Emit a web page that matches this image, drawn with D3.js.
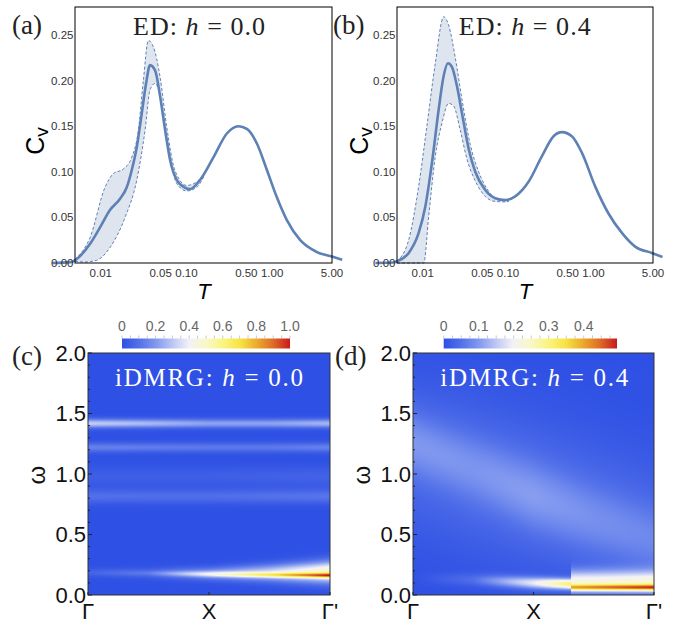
<!DOCTYPE html>
<html><head><meta charset="utf-8">
<script src="https://cdn.jsdelivr.net/npm/d3@7"></script>
<style>body{margin:0;background:#fff} svg{display:block}</style>
</head><body>
<svg id="fig" width="684" height="623"></svg>
<script>
// ================= DATA =================
const tTickValues = [0.01, 0.05, 0.1, 0.5, 1, 5];
const tTickLabels = ["0.01", "0.05", "0.10", "0.50", "1.00", "5.00"];
const cvTickValues = [0, 0.05, 0.10, 0.15, 0.20, 0.25];
const cvTickLabels = ["0.00", "0.05", "0.10", "0.15", "0.20", "0.25"];

// (a) ED, h = 0.0 : mean C_v and its upper / lower bounds
const aT  = [0.0027,0.0045,0.005,0.0075,0.0098,0.0128,0.0168,0.0201,0.023,0.0263,0.0301,0.0338,0.0376,0.0431,0.0492,0.0563,0.0644,0.0771,0.0964,0.11,0.144,0.207,0.296,0.405,0.507,0.664,0.869,1.136,1.486,2.13,3.33,4.99,6.58];
const aCv = [0,0.001,0.003,0.021,0.039,0.058,0.0705,0.083,0.102,0.127,0.164,0.197,0.217,0.211,0.183,0.146,0.113,0.091,0.0825,0.081,0.091,0.116,0.142,0.150,0.147,0.131,0.102,0.072,0.047,0.025,0.012,0.007,0.0035];
const aUpT  = [0.005,0.0075,0.0112,0.014,0.0183,0.023,0.0274,0.0314,0.0359,0.0411,0.0492,0.0589,0.0737,0.101,0.132,0.16];
const aUpCv = [0.004,0.028,0.083,0.098,0.103,0.116,0.145,0.200,0.244,0.237,0.204,0.149,0.101,0.085,0.089,0.098];
const aLoT  = [0.005,0.0065,0.00897,0.0128,0.0192,0.0263,0.0329,0.0376,0.0431,0.0492,0.0589,0.0771,0.101,0.132,0.16];
const aLoCv = [0.002,0.001,0.003,0.017,0.05,0.091,0.146,0.19,0.197,0.183,0.138,0.087,0.079,0.083,0.095];

// (b) ED, h = 0.4
const bT  = [0.00279,0.0045,0.005,0.00686,0.00897,0.01074,0.01285,0.01538,0.0176,0.01977,0.022,0.0252,0.0289,0.0346,0.0413,0.0541,0.0708,0.0927,0.1213,0.174,0.249,0.342,0.428,0.56,0.733,1.05,1.51,2.16,3.09,4.84,6.46];
const bCv = [0,0.0005,0.002,0.011,0.033,0.062,0.110,0.168,0.205,0.219,0.215,0.194,0.164,0.125,0.100,0.080,0.071,0.069,0.073,0.089,0.117,0.139,0.1435,0.139,0.121,0.084,0.054,0.033,0.018,0.011,0.0066];
const bUpT  = [0.005,0.00686,0.00897,0.0112,0.01406,0.0176,0.0201,0.0241,0.0289,0.0361,0.0453,0.0593,0.0777,0.1017];
const bUpCv = [0.002,0.0255,0.084,0.150,0.219,0.270,0.261,0.225,0.179,0.130,0.100,0.0787,0.069,0.068];
const bLoT  = [0.005,0.0103,0.01175,0.01406,0.01683,0.0201,0.0231,0.0275,0.033,0.0413,0.0541,0.0708,0.0927,0.1017];
const bLoCv = [0,0,0.051,0.117,0.1535,0.175,0.172,0.146,0.114,0.090,0.073,0.0675,0.067,0.0675];

// iDMRG spectra: k path Γ -> X -> Γ', ω axis
const kTickValues = [0, 0.5, 1];
const kTickLabels = ["Γ", "X", "Γ'"];
const omegaTickValues = [0, 0.5, 1.0, 1.5, 2.0];
const omegaTickLabels = ["0.0", "0.5", "1.0", "1.5", "2.0"];
const cBarTicks = [0, 0.2, 0.4, 0.6, 0.8, 1.0];
const cBarLabels = ["0", "0.2", "0.4", "0.6", "0.8", "1.0"];
const dBarTicks = [0, 0.1, 0.2, 0.3, 0.4];
const dBarLabels = ["0", "0.1", "0.2", "0.3", "0.4"];
const cMax = 1.0, dMax = 0.495;

// colour map stops (fraction of max) and colours
const cmapStops  = [0, 0.1, 0.2, 0.3, 0.4, 0.5, 0.6, 0.7, 0.8, 0.9, 1.0];
const cmapColors = ["rgb(46,80,228)","rgb(82,112,233)","rgb(128,152,239)","rgb(188,198,243)","rgb(242,242,247)",
                    "rgb(249,248,200)","rgb(250,244,130)","rgb(248,228,70)","rgb(236,172,45)","rgb(222,108,38)","rgb(200,25,30)"];

// spectral features: knots in k, centre ω, width σ, peak intensity
const cBands = [
  {k:[0,0.25,0.5,0.75,1], center:[1.418,1.418,1.418,1.418,1.418], sigma:[0.026,0.026,0.026,0.026,0.026], amp:[0.31,0.27,0.22,0.22,0.26]},
  {k:[0,0.25,0.5,0.75,1], center:[1.22,1.22,1.22,1.22,1.22], sigma:[0.028,0.028,0.028,0.028,0.028], amp:[0.14,0.13,0.12,0.12,0.14]},
  {k:[0,0.25,0.5,0.75,1], center:[0.98,0.98,0.98,0.98,0.98], sigma:[0.06,0.06,0.06,0.06,0.06], amp:[0.045,0.045,0.045,0.05,0.055]},
  {k:[0,0.25,0.5,0.75,1], center:[0.815,0.815,0.815,0.815,0.815], sigma:[0.042,0.042,0.042,0.042,0.042], amp:[0.095,0.09,0.09,0.1,0.11]},
  {k:[0,0.25,0.5,0.75,1], center:[0.185,0.18,0.172,0.166,0.162], sigma:[0.018,0.016,0.016,0.014,0.013], amp:[0.03,0.06,0.2,0.36,0.55]},
  {k:[0,0.25,0.5,0.75,1], center:[0.185,0.18,0.176,0.182,0.19], sigma:[0.03,0.032,0.036,0.048,0.062], amp:[0.03,0.07,0.22,0.34,0.52]}
];
const dBands = [
  {k:[0,0.25,0.5,0.75,1], center:[1.15,1.0,0.85,0.7,0.55], sigma:[0.45,0.45,0.45,0.45,0.45], amp:[0.04,0.045,0.045,0.04,0.035]},
  {k:[0,0.25,0.5,0.75,1], center:[1.26,1.05,0.82,0.62,0.45], sigma:[0.18,0.19,0.2,0.2,0.2], amp:[0.06,0.05,0.06,0.05,0.045]},
  {k:[0,0.25,0.5,0.657], center:[0.14,0.125,0.10,0.09], sigma:[0.035,0.035,0.034,0.03], amp:[0.0,0.04,0.18,0.30]},
  {k:[0.657,0.83,1], center:[0.062,0.062,0.062], sigma:[0.018,0.018,0.018], amp:[0.24,0.28,0.31]},
  {k:[0.657,0.83,1], center:[0.11,0.11,0.11], sigma:[0.065,0.065,0.065], amp:[0.2,0.2,0.2]}
];

// ================= DRAW =================
const svg = d3.select("#fig");
const BLUE = "#5e81b5";
const SANS = "'Liberation Sans', Arial, sans-serif";
const SERIF = "'Liberation Serif', 'Times New Roman', serif";

function cvPanel(o) {
  const x = d3.scaleLog().domain([0.005, 5]).range([o.x0, o.x1]);
  const y = d3.scaleLinear().domain([0, 0.25]).range([263, 35]);
  const g = svg.append("g");
  const line = d3.line().x(d => x(d[0])).y(d => y(d[1])).curve(d3.curveMonotoneX);
  const up = d3.zip(o.upT, o.upCv), lo = d3.zip(o.loT, o.loCv);
  const band = line(up) + line(lo.slice().reverse()).replace(/^M/, "L") + "Z";
  g.append("path").attr("d", band).attr("fill", "#dfe5ef").attr("stroke", "none");
  g.append("path").attr("d", line(up)).attr("fill", "none").attr("stroke", BLUE).attr("stroke-width", 1).attr("stroke-dasharray", "3,2");
  g.append("path").attr("d", line(lo)).attr("fill", "none").attr("stroke", BLUE).attr("stroke-width", 1).attr("stroke-dasharray", "3,2");
  g.append("path").attr("d", line(d3.zip(o.T, o.Cv))).attr("fill", "none").attr("stroke", BLUE).attr("stroke-width", 2.6);
  g.append("rect").attr("x", o.x0).attr("y", 7).attr("width", o.x1 - o.x0).attr("height", 263 - 7)
    .attr("fill", "none").attr("stroke", "#000").attr("stroke-width", 1);
  g.selectAll(".xt").data(tTickValues).join("text")
    .attr("x", d => x(d)).attr("y", 277).attr("text-anchor", "middle")
    .attr("font-family", SANS).attr("font-size", 11.5).attr("fill", "#333")
    .text((d, i) => tTickLabels[i]);
  g.selectAll(".yt").data(cvTickValues).join("text")
    .attr("x", o.x0 - 1.5).attr("y", d => y(d)).attr("dy", "0.35em").attr("text-anchor", "end")
    .attr("font-family", SANS).attr("font-size", 11.5).attr("fill", "#333")
    .text((d, i) => cvTickLabels[i]);
  g.append("text").attr("x", o.tX).attr("y", 299).attr("text-anchor", "middle")
    .attr("font-family", SANS).attr("font-size", 22).attr("font-style", "italic").text("T");
  const cv = g.append("text").attr("transform", `translate(${o.cvX},141) rotate(-90)`).attr("text-anchor", "middle")
    .attr("font-family", SANS).attr("font-size", 25);
  cv.append("tspan").text("C");
  cv.append("tspan").attr("font-size", 19).attr("dy", 4).text("v");
  const t = g.append("text").attr("x", o.titleX).attr("y", 35).attr("font-family", SERIF).attr("font-size", 26)
    .attr("fill", "#222").attr("textLength", 132).attr("lengthAdjust", "spacing");
  t.append("tspan").text("ED: ");
  t.append("tspan").attr("font-style", "italic").text("h");
  t.append("tspan").text(" = " + o.hText);
  g.append("text").attr("x", o.labelX).attr("y", 34).attr("font-family", SERIF).attr("font-size", 27)
    .attr("fill", "#222").text(o.label);
}

cvPanel({x0: 75, x1: 332, T: aT, Cv: aCv, upT: aUpT, upCv: aUpCv, loT: aLoT, loCv: aLoCv,
  tX: 204, cvX: 44, titleX: 133, hText: "0.0", label: "(a)", labelX: 12});
cvPanel({x0: 397, x1: 653, T: bT, Cv: bCv, upT: bUpT, upCv: bUpCv, loT: bLoT, loCv: bLoCv,
  tX: 525.5, cvX: 368, titleX: 458.7, hText: "0.4", label: "(b)", labelX: 333});

function heatPanel(o) {
  const xk = d3.scaleLinear().domain([0, 1]).range([o.x0, o.x1]);
  const yw = d3.scaleLinear().domain([0, 2]).range([595, 353]);
  const color = d3.scaleLinear().domain(cmapStops.map(s => s * o.max)).range(cmapColors)
    .interpolate(d3.interpolateRgb).clamp(true);
  const bands = o.bands.map(b => ({
    kmin: b.k[0], kmax: b.k[b.k.length - 1],
    c: d3.scaleLinear().domain(b.k).range(b.center).clamp(true),
    s: d3.scaleLinear().domain(b.k).range(b.sigma).clamp(true),
    a: d3.scaleLinear().domain(b.k).range(b.amp).clamp(true)
  }));
  const W = Math.round(o.x1 - o.x0), H = Math.round(595 - 353);
  const canvas = document.createElement("canvas");
  canvas.width = W; canvas.height = H;
  const ctx = canvas.getContext("2d");
  const img = ctx.createImageData(W, H);
  for (let j = 0; j < H; j++) {
    const w = yw.invert(353 + j + 0.5);
    for (let i = 0; i < W; i++) {
      const k = xk.invert(o.x0 + i + 0.5);
      let v = 0;
      for (const b of bands) {
        if (k < b.kmin - 1e-9 || k > b.kmax + 1e-9) continue;
        const s = b.s(k), dw = w - b.c(k);
        v += b.a(k) * Math.exp(-dw * dw / (2 * s * s));
      }
      const c = d3.rgb(color(v));
      const p = (j * W + i) * 4;
      img.data[p] = c.r; img.data[p + 1] = c.g; img.data[p + 2] = c.b; img.data[p + 3] = 255;
    }
  }
  ctx.putImageData(img, 0, 0);
  const g = svg.append("g");
  g.append("image").attr("href", canvas.toDataURL()).attr("x", o.x0).attr("y", 353)
    .attr("width", W).attr("height", H).attr("preserveAspectRatio", "none");
  g.append("rect").attr("x", o.x0).attr("y", 353).attr("width", W).attr("height", H)
    .attr("fill", "none").attr("stroke", "#333").attr("stroke-width", 1);
  const minor = d3.range(0, 2.001, 0.1);
  g.selectAll(".mt").data(minor).join("line")
    .attr("x1", o.x0).attr("x2", (d, i) => o.x0 + (i % 5 === 0 ? 4 : 2))
    .attr("y1", d => yw(d)).attr("y2", d => yw(d)).attr("stroke", "#222").attr("stroke-width", 1);
  g.selectAll(".kt").data(kTickValues).join("line")
    .attr("x1", d => xk(d)).attr("x2", d => xk(d)).attr("y1", 595).attr("y2", 592)
    .attr("stroke", "#222").attr("stroke-width", 1);
  g.selectAll(".yl").data(omegaTickValues).join("text")
    .attr("x", o.x0 - 2).attr("y", d => yw(d)).attr("dy", "0.36em").attr("text-anchor", "end")
    .attr("font-family", SANS).attr("font-size", 22).attr("fill", "#111")
    .text((d, i) => omegaTickLabels[i]);
  g.selectAll(".xl").data(kTickValues).join("text")
    .attr("x", d => xk(d)).attr("y", 619).attr("text-anchor", "middle")
    .attr("font-family", SANS).attr("font-size", 22).attr("fill", "#111")
    .text((d, i) => kTickLabels[i]);
  g.append("text").attr("transform", `translate(${o.wX},475) rotate(-90)`).attr("text-anchor", "middle")
    .attr("font-family", SANS).attr("font-size", 24).attr("fill", "#111").text("ω");
  const t = g.append("text").attr("x", o.titleX).attr("y", 386).attr("font-family", SERIF).attr("font-size", 25)
    .attr("fill", "#fff").attr("textLength", 188).attr("lengthAdjust", "spacing");
  t.append("tspan").text("iDMRG: ");
  t.append("tspan").attr("font-style", "italic").text("h");
  t.append("tspan").text(" = " + o.hText);
  g.append("text").attr("x", o.labelX).attr("y", 365).attr("font-family", SERIF).attr("font-size", 27)
    .attr("fill", "#222").text(o.label);
  // colour bar
  const cb = d3.scaleLinear().domain([0, o.max]).range([o.cb0, o.cb1]);
  const gid = "grad" + o.label.replace(/\W/g, "");
  const grad = svg.append("defs").append("linearGradient").attr("id", gid)
    .attr("x1", "0%").attr("x2", "100%").attr("y1", "0%").attr("y2", "0%");
  grad.selectAll("stop").data(d3.range(0, 1.0001, 0.02)).join("stop")
    .attr("offset", d => (d * 100) + "%").attr("stop-color", d => color(d * o.max));
  g.append("rect").attr("x", o.cb0).attr("y", 338.5).attr("width", o.cb1 - o.cb0).attr("height", 10)
    .attr("fill", `url(#${gid})`);
  g.selectAll(".cbm").data(d3.range(0, o.max + 1e-9, o.minorStep)).join("line")
    .attr("x1", d => cb(d)).attr("x2", d => cb(d)).attr("y1", 335.5).attr("y2", 338.5)
    .attr("stroke", "#bbb").attr("stroke-width", 0.8);
  g.selectAll(".cbl").data(o.barTicks).join("text")
    .attr("x", d => cb(d)).attr("y", 330.5).attr("text-anchor", "middle")
    .attr("font-family", SANS).attr("font-size", 14).attr("fill", "#666")
    .text((d, i) => o.barLabels[i]);
}

heatPanel({x0: 88, x1: 330, bands: cBands, max: cMax, cb0: 122, cb1: 290, minorStep: 0.05,
  barTicks: cBarTicks, barLabels: cBarLabels, wX: 45, titleX: 115, hText: "0.0", label: "(c)", labelX: 12});
heatPanel({x0: 413, x1: 654, bands: dBands, max: dMax, cb0: 443.7, cb1: 617, minorStep: 0.025,
  barTicks: dBarTicks, barLabels: dBarLabels, wX: 370, titleX: 440.3, hText: "0.4", label: "(d)", labelX: 335});
</script>
</body></html>
